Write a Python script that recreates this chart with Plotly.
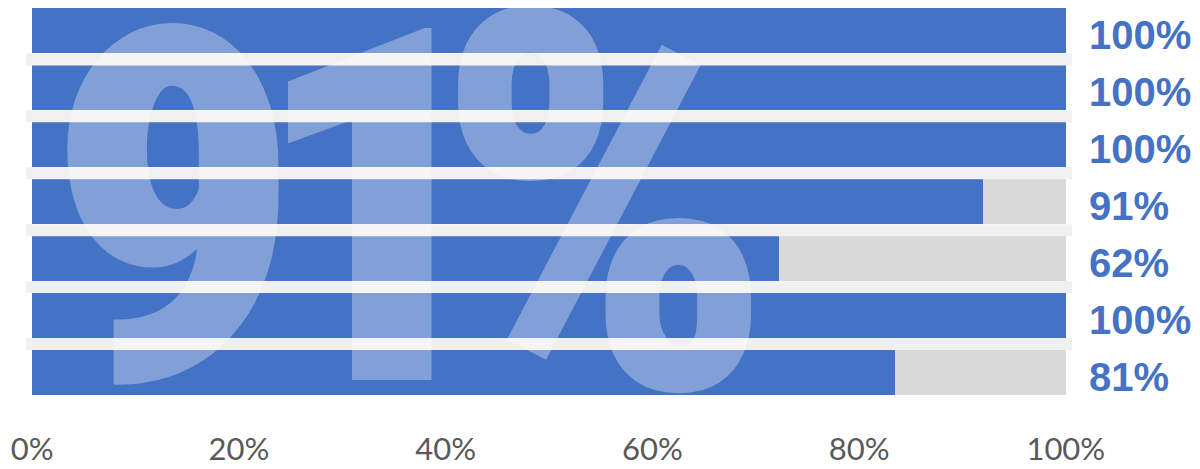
import plotly.graph_objects as go

# ---- data ----
rows = [0, 1, 2, 3, 4, 5, 6]
bar_values = [100, 100, 100, 92, 72.3, 100, 83.5]
track_values = [100, 100, 100, 100, 100, 100, 100]
label_texts = ["100%", "100%", "100%", "91%", "62%", "100%", "81%"]
tick_vals = [0, 20, 40, 60, 80, 100]
tick_text = ["0%", "20%", "40%", "60%", "80%", "100%"]
big_chars = ["9", "1", "%"]
big_x = [13.7, 33.3, 55.4]
big_sizes = [495, 495, 530]
big_yshift = [-9, -9, -5]

BLUE = "#4472C4"
GREY = "#D9D9D9"
STRIPE = "#F0F0F0"
BAR_W = 0.79

fig = go.Figure()
fig.add_trace(go.Bar(y=rows, x=track_values, orientation="h", width=BAR_W,
                     marker=dict(color=GREY, line=dict(width=0)),
                     hoverinfo="skip", showlegend=False))
fig.add_trace(go.Bar(y=rows, x=bar_values, orientation="h", width=BAR_W,
                     marker=dict(color=BLUE, line=dict(width=0)),
                     hoverinfo="skip", showlegend=False))

# stripes between rows
for i in rows[:-1]:
    c = i + 0.5
    fig.add_shape(type="rect", xref="x", yref="y", x0=-0.6, x1=100.6,
                  y0=c - (1 - BAR_W) / 2, y1=c + (1 - BAR_W) / 2,
                  fillcolor=STRIPE, line=dict(width=0), layer="above")

# big watermark text
for ch, xc, sz, ys in zip(big_chars, big_x, big_sizes, big_yshift):
    fig.add_annotation(x=xc, y=3.0, xref="x", yref="y", text=ch, showarrow=False,
                       xanchor="center", yanchor="middle", yshift=ys,
                       font=dict(family="Impact, Roboto Condensed, Noto Sans Condensed, Liberation Sans Narrow, DejaVu Sans Condensed, sans-serif",
                                 size=sz, color="rgba(255,255,255,0.33)", weight=900))

# right labels
for r, t in zip(rows, label_texts):
    fig.add_annotation(x=1.0143, y=r, xref="paper", yref="y", text=t, showarrow=False,
                       xanchor="left", yanchor="middle", yshift=-4,
                       font=dict(family="Liberation Sans, Arial, sans-serif",
                                 size=40, color=BLUE, weight="bold"))

fig.update_layout(
    width=1200, height=469,
    margin=dict(l=18, r=136, t=0, b=75.5, pad=0),
    paper_bgcolor="white", plot_bgcolor="white",
    barmode="overlay", bargap=0,
    xaxis=dict(range=[-0.6, 100.6], tickvals=tick_vals, ticktext=tick_text,
               showgrid=False, zeroline=False, showline=False, automargin=False,
               ticklabelstandoff=27,
               tickfont=dict(family="Lato, Open Sans, sans-serif", size=31, color="#595959")),
    yaxis=dict(range=[6.5, -0.4035], showticklabels=False, showgrid=False,
               zeroline=False, showline=False, automargin=False),
)

fig.write_html("out.html")
